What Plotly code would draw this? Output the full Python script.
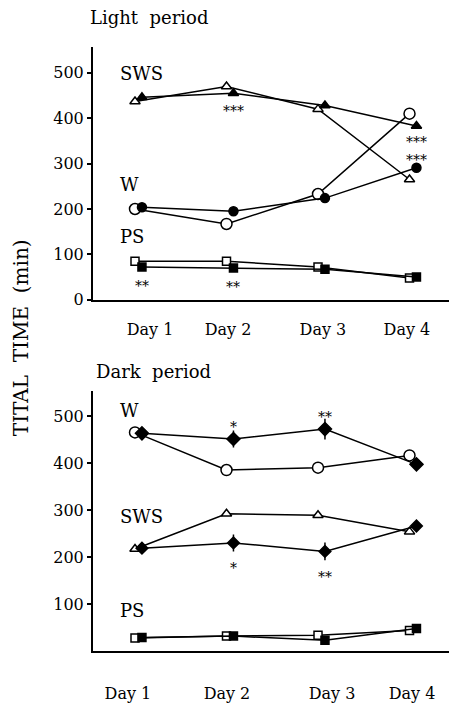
import plotly.graph_objects as go

days = [1, 2, 3, 4]
day_labels = ["Day 1", "Day 2", "Day 3", "Day 4"]
y_ticks_light = [0, 100, 200, 300, 400, 500]
y_ticks_dark = [100, 200, 300, 400, 500]

# Light period (open = control, filled = treated)
light_sws_open = [437, 470, 420, 265]
light_sws_filled = [446, 455, 428, 383]
light_w_open = [200, 167, 233, 410]
light_w_filled = [204, 195, 224, 291]
light_ps_open = [85, 85, 72, 48]
light_ps_filled = [72, 70, 67, 50]

# Dark period
dark_w_open = [465, 385, 390, 416]
dark_w_filled = [463, 451, 472, 397]
dark_w_filled_err = [0, 18, 22, 0]
dark_sws_open = [217, 292, 289, 254]
dark_sws_filled = [219, 230, 212, 266]
dark_sws_filled_err = [0, 18, 19, 8]
dark_ps_open = [28, 32, 34, 44]
dark_ps_filled = [29, 32, 23, 48]

# significance marks: (day, value, text)
light_sig = [(2, 415, "***"), (1, 30, "**"), (2, 28, "**"), (4, 327, "***<br>***")]
dark_sig = [(2, 477, "*"), (3, 497, "**"), (2, 177, "*"), (3, 158, "**")]

# state labels: (text, value)
light_states = [("SWS", 498), ("W", 254), ("PS", 139)]
dark_states = [("W", 512), ("SWS", 286), ("PS", 87)]

FONT = "DejaVu Serif"
OFF = 0.038
BLACK = "black"

# page body has an 8px margin: figure is sized to fit the 457x708 window
PAGE_W, PAGE_H, BODY = 457, 708, 8
W, H = PAGE_W - BODY, PAGE_H - BODY


def px(x):
    return (x - BODY) / W


def py(y):
    return (PAGE_H - y) / H


fig = go.Figure()


def add_series(vals, symbol, filled, xa, ya, size=9, err=None):
    off = OFF if filled else -OFF
    xs = [d + off for d in days]
    kw = {}
    if err is not None:
        kw["error_y"] = dict(type="data", array=err, visible=True, color=BLACK,
                             thickness=1.5, width=0)
    fig.add_trace(go.Scatter(
        x=xs, y=vals, mode="lines+markers",
        line=dict(color=BLACK, width=1.5),
        marker=dict(symbol=symbol, size=size,
                    color=BLACK if filled else "white",
                    line=dict(color=BLACK, width=1.5)),
        xaxis=xa, yaxis=ya, showlegend=False, **kw))


# Light panel
add_series(light_sws_open, "triangle-up", False, "x", "y", 9)
add_series(light_sws_filled, "triangle-up", True, "x", "y", 9)
add_series(light_w_open, "circle", False, "x", "y", 11)
add_series(light_w_filled, "circle", True, "x", "y", 9)
add_series(light_ps_open, "square", False, "x", "y", 8)
add_series(light_ps_filled, "square", True, "x", "y", 8)

# Dark panel
add_series(dark_w_open, "circle", False, "x2", "y2", 11)
add_series(dark_w_filled, "diamond", True, "x2", "y2", 10, dark_w_filled_err)
add_series(dark_sws_open, "triangle-up", False, "x2", "y2", 9)
add_series(dark_sws_filled, "diamond", True, "x2", "y2", 9, dark_sws_filled_err)
add_series(dark_ps_open, "square", False, "x2", "y2", 8)
add_series(dark_ps_filled, "square", True, "x2", "y2", 8)

annotations = []
for d, v, t in light_sig:
    annotations.append(dict(x=d + OFF, y=v, xref="x", yref="y", text=t, showarrow=False,
                            font=dict(family=FONT, size=14, color=BLACK)))
for d, v, t in dark_sig:
    annotations.append(dict(x=d + OFF, y=v, xref="x2", yref="y2", text=t, showarrow=False,
                            font=dict(family=FONT, size=14, color=BLACK)))
for t, v in light_states:
    annotations.append(dict(x=px(118), y=v, xref="paper", yref="y", text=t, showarrow=False,
                            xanchor="left", font=dict(family=FONT, size=18, color=BLACK)))
for t, v in dark_states:
    annotations.append(dict(x=px(118), y=v, xref="paper", yref="y2", text=t, showarrow=False,
                            xanchor="left", font=dict(family=FONT, size=18, color=BLACK)))

annotations.append(dict(x=px(88), y=py(18), xref="paper", yref="paper",
                        text="Light  period", showarrow=False, xanchor="left", yanchor="middle",
                        font=dict(family=FONT, size=18, color=BLACK)))
annotations.append(dict(x=px(94), y=py(377), xref="paper", yref="paper",
                        text="Dark  period", showarrow=False, xanchor="left", yanchor="middle",
                        font=dict(family=FONT, size=18, color=BLACK)))
annotations.append(dict(x=px(21), y=py(343), xref="paper", yref="paper",
                        text="TITAL  TIME  (min)", showarrow=False, textangle=-90,
                        xanchor="center", yanchor="middle",
                        font=dict(family=FONT, size=20, color=BLACK)))

xcommon = dict(domain=[px(93), 1], range=[0.503, 4.481], showgrid=False, zeroline=False,
               showline=True, linecolor=BLACK, linewidth=2, ticks="",
               ticktext=day_labels, tickfont=dict(family=FONT, size=16, color=BLACK))
ycommon = dict(showgrid=False, zeroline=False, showline=True, linecolor=BLACK, linewidth=2,
               ticks="outside", ticklen=4, tickwidth=1.5, tickcolor=BLACK,
               tickfont=dict(family=FONT, size=16, color=BLACK))

fig.update_layout(
    width=W, height=H,
    margin=dict(l=0, r=0, t=0, b=0),
    paper_bgcolor="white", plot_bgcolor="white",
    xaxis=dict(**xcommon, anchor="y", tickvals=[1.126, 1.978, 3.016, 3.934], ticklabelstandoff=14),
    xaxis2=dict(**xcommon, anchor="y2", tickvals=[0.885, 1.967, 3.115, 3.989], ticklabelstandoff=27),
    yaxis=dict(**ycommon, domain=[py(304), py(48)], range=[0, 556],
               tickvals=y_ticks_light, anchor="x"),
    yaxis2=dict(**ycommon, domain=[py(660.5), py(397)], range=[0, 552],
                tickvals=y_ticks_dark, anchor="x2"),
    annotations=annotations,
)

fig.write_html("out.html")
